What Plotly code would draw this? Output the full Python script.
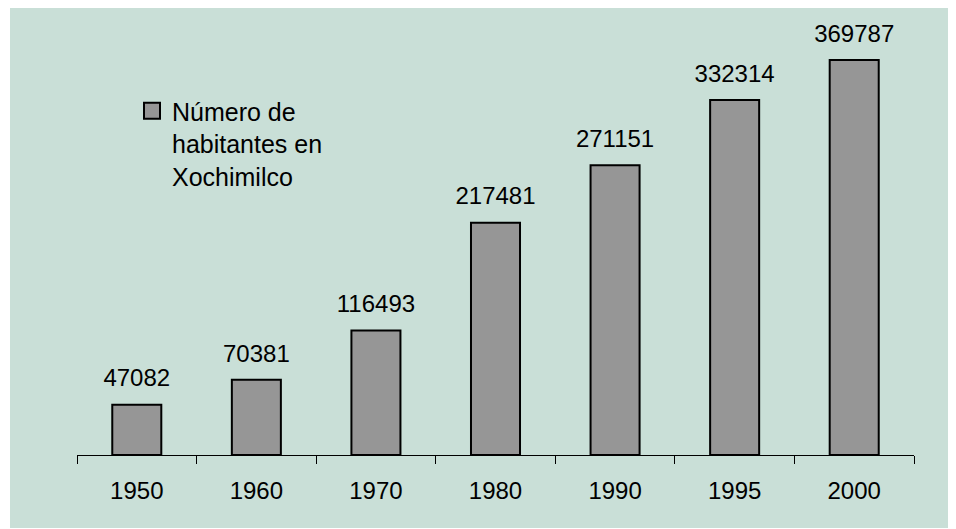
import plotly.graph_objects as go

years = ["1950", "1960", "1970", "1980", "1990", "1995", "2000"]
habitantes = [47082, 70381, 116493, 217481, 271151, 332314, 369787]
series_name = "Número de<br>habitantes en<br>Xochimilco"

FONT = "Liberation Sans, Arial, sans-serif"
BAR = "#969696"

# figure size (page body has an 8px margin)
W, H = 948, 521
L, R, T, B = 69, 42, 12, 74
PW, PH = W - L - R, H - T - B

fig = go.Figure()
fig.add_trace(go.Bar(
    x=years, y=habitantes, name=series_name,
    marker=dict(color=BAR, line=dict(color="#000000", width=2)),
    showlegend=False,
))
# value labels above bars
fig.add_trace(go.Scatter(
    x=years, y=habitantes, mode="markers+text", text=[str(v) for v in habitantes],
    textposition="top center", showlegend=False, hoverinfo="skip", cliponaxis=False,
    marker=dict(size=18, color="rgba(0,0,0,0)"),
    textfont=dict(family=FONT, size=24, color="#000000"),
))
# legend entry
fig.add_trace(go.Scatter(
    x=[None], y=[None], mode="markers", name=series_name,
    marker=dict(symbol="square", size=16, color=BAR, line=dict(color="#000000", width=2)),
))

# green background panel
fig.add_shape(type="rect", xref="paper", yref="paper",
              x0=(2 - L) / PW, x1=(W + 5 - L) / PW,
              y0=(T + PH - 520) / PH, y1=(T + PH) / PH,
              fillcolor="#C9DFD7", line=dict(width=0), layer="below")

fig.update_layout(
    width=W, height=H,
    margin=dict(l=L, r=R, t=T, b=B),
    paper_bgcolor="#FFFFFF",
    plot_bgcolor="rgba(0,0,0,0)",
    bargap=0.59,
    font=dict(family=FONT, size=24, color="#000000"),
    legend=dict(x=(124 - L) / PW, y=(T + PH - 80) / PH, xanchor="left", yanchor="top",
                bgcolor="rgba(0,0,0,0)", valign="top", itemsizing="trace",
                font=dict(family=FONT, size=25, color="#000000")),
    xaxis=dict(type="category", categoryorder="array", categoryarray=years,
               showline=True, linecolor="#000000", linewidth=1,
               ticks="outside", tickson="boundaries", ticklen=8, tickcolor="#000000",
               tickwidth=1, showgrid=False, ticklabelstandoff=14,
               tickfont=dict(family=FONT, size=24, color="#000000")),
    yaxis=dict(range=[0, 407200], visible=False, showgrid=False, zeroline=False),
)

fig.write_html("out.html")
